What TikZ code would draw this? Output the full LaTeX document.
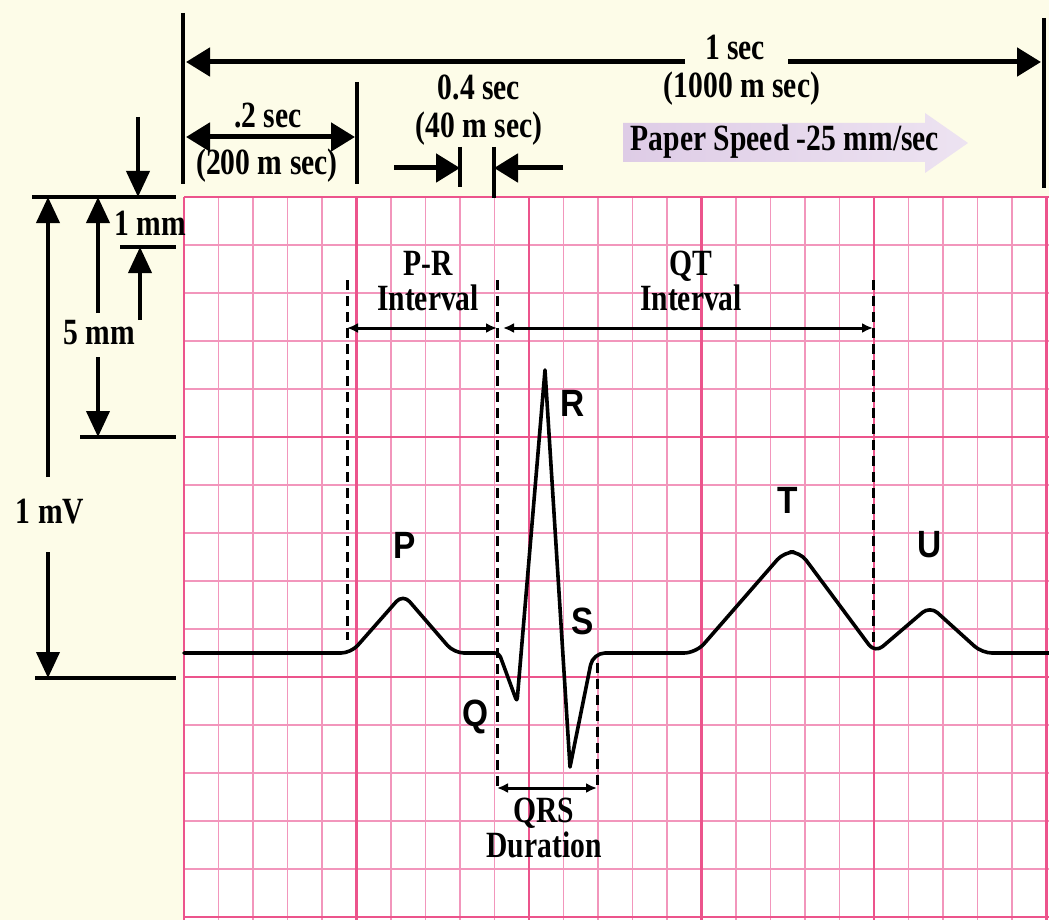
\documentclass[tikz,border=0pt]{standalone}
\usepackage{fontspec}
\usetikzlibrary{
  arrows.meta
}
\newfontfamily\annfont[FakeStretch=0.8]{Liberation Serif}
\newfontfamily\wavefont[FakeStretch=0.88]{Liberation Sans}
\definecolor{papercream}{RGB}{253,252,232}
\definecolor{gridmajor}{RGB}{236,84,140}
\definecolor{gridminor}{RGB}{242,150,188}
\definecolor{speedlav}{RGB}{222,204,230}
\tikzset{
  ann/.style={
    font=\annfont\bfseries\fontsize{37}{35}\selectfont,
    inner sep=0pt,
    align=center
  },
  wave/.style={
    font=\wavefont\bfseries\fontsize{38}{38}\selectfont,
    inner sep=0pt
  },
  minorline/.style={
    draw=gridminor,
    line width=1.6pt
  },
  majorline/.style={
    draw=gridmajor,
    line width=2.8pt
  },
  tickline/.style={
    draw=black,
    line width=4pt
  },
  dimarrow/.style={
    line width=5pt,
    -{Triangle[length=24pt,width=28pt]}
  },
  dimboth/.style={
    line width=5pt,
    {Triangle[length=24pt,width=28pt]}-{Triangle[length=24pt,width=28pt]}
  },
  sidearrow/.style={
    line width=4pt,
    -{Triangle[length=26pt,width=23pt]}
  },
  intervalarrow/.style={
    line width=3pt,
    {Latex[length=11pt,width=10pt]}-{Latex[length=11pt,width=10pt]}
  },
  guide/.style={
    line width=3pt,
    dash pattern=on 10pt off 6pt
  },
  trace/.style={
    line width=3.6pt,
    line join=round,
    line cap=round
  }
}

\begin{document}
\begin{tikzpicture}[x=1pt,y=-1pt]

% Page and paper.
\useasboundingbox (0,0) rectangle (1049,920);
\fill[papercream] (0,0) rectangle (1049,920);
\fill[white] (184,197) rectangle (1049,920);

% ECG paper grid.
\foreach \i in {0,...,25}
  \draw[minorline] ({184+34.5*\i},197) -- ({184+34.5*\i},920);
\foreach \j in {0,...,15}
  \draw[minorline] (184,{197+48*\j}) -- (1049,{197+48*\j});
\foreach \i in {0,5,...,25}
  \draw[majorline] ({184+34.5*\i},197) -- ({184+34.5*\i},920);
\foreach \j in {0,5,10,15}
  \draw[majorline] (184,{197+48*\j}) -- (1049,{197+48*\j});

% Time scale above the paper.
\coordinate (tickA1) at (183,13);   \coordinate (tickA2) at (183,184);
\coordinate (tickB1) at (357,82);   \coordinate (tickB2) at (357,184);
\coordinate (tickC1) at (1044,18);  \coordinate (tickC2) at (1044,188);
\draw[tickline] (tickA1) -- (tickA2);
\draw[tickline] (tickB1) -- (tickB2);
\draw[tickline] (tickC1) -- (tickC2);

\node[ann] (onesec) at (735,47) {1 sec};
\node[ann] (onesecms) at (742,89) {(1000 m sec)};
\coordinate (secL) at (186,62);
\coordinate (secgapL) at (685,62);
\coordinate (secgapR) at (788,62);
\coordinate (secR) at (1041,62);
\draw[dimarrow] (secgapL) -- (secL);
\draw[dimarrow] (secgapR) -- (secR);

\node[ann] (twosec) at (268,116) {.2 sec};
\node[ann] (twosecms) at (267,166) {(200 m sec)};
\coordinate (twoL) at (186,137);
\coordinate (twoR) at (355,137);
\draw[dimboth] (twoL) -- (twoR);

\node[ann, font=\annfont\bfseries\fontsize{37}{38}\selectfont] (foursec) at (479,110) {0.4 sec\\(40 m sec)};
\coordinate (fourA1) at (460,147);  \coordinate (fourA2) at (460,187);
\coordinate (fourB1) at (494,147);  \coordinate (fourB2) at (494,198);
\draw[line width=3.5pt] (fourA1) -- (fourA2);
\draw[line width=3.5pt] (fourB1) -- (fourB2);
\coordinate (fourinL) at (394,168);
\coordinate (fourinR) at (563,168);
\draw[dimarrow] (fourinL) -- (fourA1 |- fourinL);
\draw[dimarrow] (fourinR) -- (fourB1 |- fourinR);

% Paper speed banner.
\shade[left color=speedlav, right color=speedlav!55]
  (623,123) -- (925,123) -- (925,113) -- (968,143)
  -- (925,173) -- (925,162) -- (623,162) -- cycle;
\node[ann] (speed) at (785,142) {Paper Speed -25 mm/sec};

% Amplitude scale on the left.
\coordinate (mvtopL) at (32,197);   \coordinate (mvtopR) at (176,197);
\coordinate (mmL) at (120,247);     \coordinate (mmR) at (176,247);
\coordinate (fiveL) at (80,437);    \coordinate (fiveR) at (176,437);
\coordinate (mvbotL) at (35,678);   \coordinate (mvbotR) at (176,678);
\draw[tickline] (mvtopL) -- (mvtopR);
\draw[tickline] (mmL) -- (mmR);
\draw[tickline] (fiveL) -- (fiveR);
\draw[tickline] (mvbotL) -- (mvbotR);

\node[ann] (onemm) at (150,223) {1 mm};
\coordinate (mmdown) at (138,117);
\coordinate (mmup) at (140,320);
\draw[sidearrow] (mmdown) -- (mmdown |- mvtopL);
\draw[sidearrow] (mmup) -- (mmup |- mmL);

\node[ann] (fivemm) at (99,333) {5 mm};
\coordinate (fiveup) at (98,313);
\coordinate (fivedown) at (98,357);
\draw[sidearrow] (fiveup) -- (fiveup |- mvtopL);
\draw[sidearrow] (fivedown) -- (fivedown |- fiveL);

\node[ann] (onemv) at (50,512) {1 mV};
\coordinate (mvup) at (48,477);
\coordinate (mvdown) at (48,552);
\draw[sidearrow] (mvup) -- (mvup |- mvtopL);
\draw[sidearrow] (mvdown) -- (mvdown |- mvbotL);

% Interval guides.
\coordinate (prL) at (347,280);
\coordinate (prR) at (497,280);
\coordinate (qtR) at (873,280);
\coordinate (qrsR) at (597,663);
\draw[guide] (prL) -- (347,640);
\draw[guide] (prR) -- (497,787);
\draw[guide] (qtR) -- (873,648);
\draw[guide] (qrsR) -- (597,787);

\node[ann] (prlabel) at (428,281) {P-R\\Interval};
\node[ann] (qtlabel) at (691,281) {QT\\Interval};
\node[ann] (qrslabel) at (544,828) {QRS\\Duration};
\draw[intervalarrow] (prL |- 0,328) -- (prR |- 0,328);
\draw[intervalarrow] (503,328) -- (qtR |- 0,328);
\draw[intervalarrow] (prR |- 0,788) -- (qrsR |- 0,788);

% ECG trace.
\draw[trace, rounded corners=10pt]
  (184,653) -- (351,653) -- (403,594) -- (454,653)
  [rounded corners=4pt] -- (499,653) -- (517,702)
  [sharp corners] -- (545,370) -- (570,767)
  [rounded corners=12pt] -- (593,653) -- (696,653)
  [rounded corners=10pt] -- (784,552) -- (800,552) -- (875,653)
  -- (930,606) -- (982,653) -- (1049,653);

% Wave labels.
\node[wave] (plabel) at (405,545) {P};
\node[wave] (qlabel) at (475,717) {Q};
\node[wave] (rlabel) at (573,403) {R};
\node[wave] (slabel) at (583,621) {S};
\node[wave] (tlabel) at (788,500) {T};
\node[wave] (ulabel) at (930,545) {U};

\end{tikzpicture}
\end{document}
